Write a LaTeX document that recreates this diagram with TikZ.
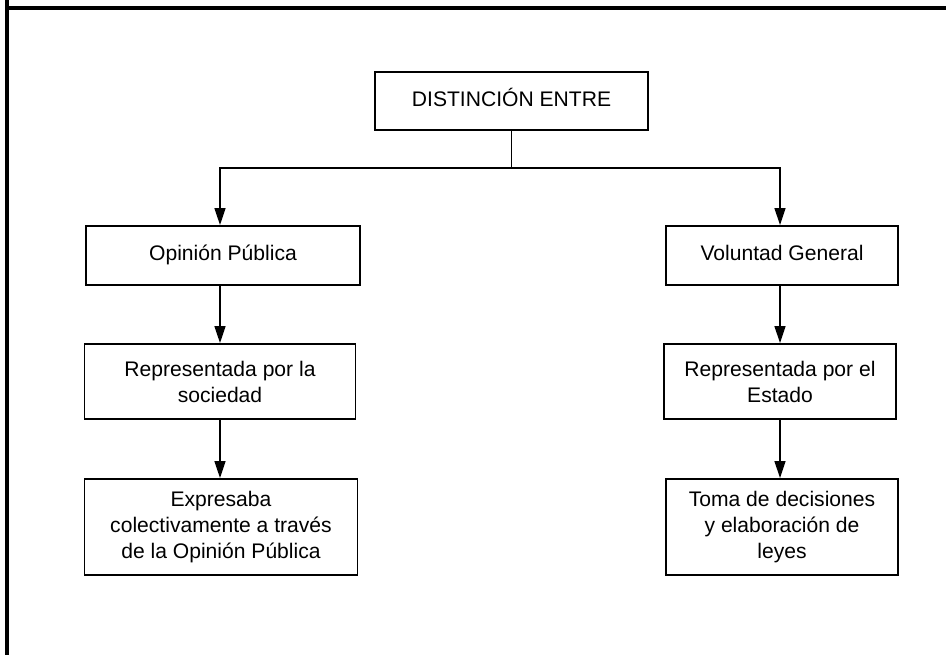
\documentclass[tikz,border=0pt]{standalone}
\usepackage{fontspec}
\setmainfont{Liberation Sans}
\usetikzlibrary{shapes, positioning, arrows.meta}

\begin{document}
\begin{tikzpicture}[
        box/.style={draw, line width=1.1pt, align=center, inner sep=2pt,
            font=\fontsize{12}{14.8}\selectfont},
        >={Triangle[length=0.34cm, width=0.22cm]}
    ]
        \useasboundingbox (0, 0) rectangle (18.92, -13.1);
        \draw[line width=1.8pt] (0.14, 0) -- (0.14, -0.16) -- (18.92, -0.16);
        \draw[line width=1.8pt] (0.14, -0.16) -- (0.14, -13.1);

        \node[box, minimum width=5.46cm, minimum height=1.16cm] (dist) at (10.23, -2.02) {\strut DISTINCIÓN ENTRE};
        \coordinate (split) at (10.23, -3.36);

        \node[box, minimum width=5.48cm, minimum height=1.18cm] (op) at (4.46, -5.11) {\strut Opinión Pública};
        \node[box, minimum width=5.42cm, minimum height=1.5cm] (rs) at (4.40, -7.63) {Representada por la\\ sociedad};
        \node[box, minimum width=5.46cm, minimum height=1.92cm] (ex) at (4.42, -10.54) {Expresaba\\ colectivamente a través\\ de la Opinión Pública};

        \node[box, minimum width=4.64cm, minimum height=1.18cm] (vg) at (15.64, -5.11) {\strut Voluntad General};
        \node[box, minimum width=4.64cm, minimum height=1.5cm] (re) at (15.60, -7.63) {Representada por el\\ Estado};
        \node[box, minimum width=4.64cm, minimum height=1.92cm] (tm) at (15.64, -10.54) {Toma de decisiones\\ y elaboración de\\ leyes};

        \draw[line width=0.8pt] (dist) -- (split);
        \draw[->, line width=0.8pt] (split) -| (op.north -| rs);
        \draw[->, line width=0.8pt] (split) -| (vg.north -| re);
        \draw[->, line width=0.8pt] (op.south -| rs) -- (rs);
        \draw[->, line width=0.8pt] (rs) -- (ex.north -| rs);
        \draw[->, line width=0.8pt] (vg.south -| re) -- (re);
        \draw[->, line width=0.8pt] (re) -- (tm.north -| re);
    \end{tikzpicture}
\end{document}
